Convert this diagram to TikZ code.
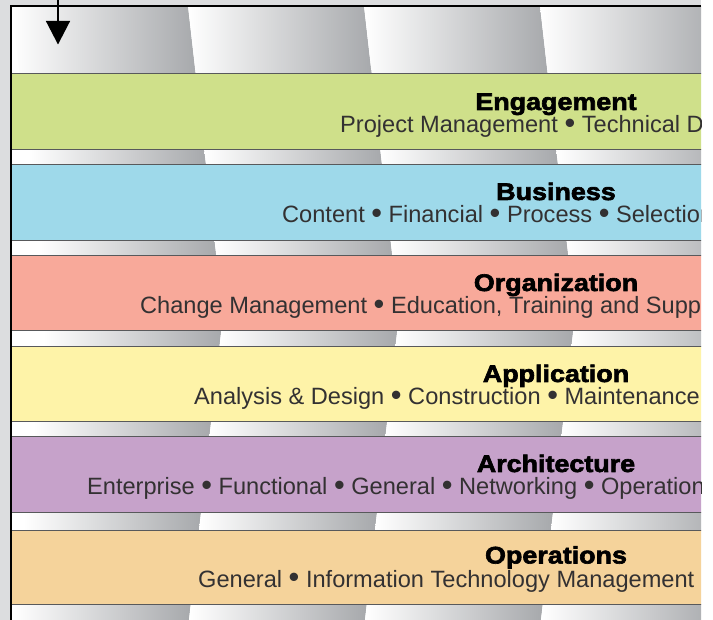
\documentclass[tikz,border=0pt]{standalone}
\usepackage{fontspec}
\setmainfont{Liberation Sans}
\newfontfamily\titlefont[FakeStretch=1.12,FakeBold=2.6]{Liberation Sans Bold}
\usetikzlibrary{arrows.meta}
\definecolor{outergray}{HTML}{DCDDDF}
\definecolor{colgray}{HTML}{A7A9AC}
\definecolor{bandline}{HTML}{58595B}
\definecolor{cEng}{HTML}{CFE08A}
\definecolor{cBus}{HTML}{9ED9EA}
\definecolor{cOrg}{HTML}{F8A99A}
\definecolor{cApp}{HTML}{FEF3A8}
\definecolor{cArc}{HTML}{C6A2CA}
\definecolor{cOps}{HTML}{F5D39B}
\definecolor{txt}{HTML}{231F20}
\definecolor{subtxt}{HTML}{333132}
\newcommand{\bulsep}{\space\raisebox{-0.6pt}{\scalebox{1.3}{•}}\space}
\begin{document}
\begin{tikzpicture}[x=1pt,y=-1pt,
  bandbox/.style={draw=bandline, line width=1pt, minimum width=720pt, inner sep=0pt, outer sep=0pt},
  titletext/.style={font=\titlefont\fontsize{24}{24}\selectfont, text=black, anchor=base, inner sep=0pt},
  subtext/.style={font=\fontsize{23.6}{26}\selectfont, text=subtxt, anchor=base west, inner sep=0pt},
  frameline/.style={draw=black, line width=1.3pt},
  colshade/.style={left color=white, right color=colgray}]
\useasboundingbox (0,0) rectangle (713,620);
\fill[white] (0,0) rectangle (713,620);
\fill[outergray] (0,0) rectangle (701,620);
\begin{scope}
  \clip (11,6) rectangle (701,620);
  \fill[white] (11,6) rectangle (701,620);
  \foreach \ya/\yb in {6/74,150/165,241/256,331/347,422/437,513/530,604/620}{
    \pgfmathsetmacro{\ea}{\ya<315 ? 188+0.1133*(\ya-6) : 223-0.1115*(\ya-315)}
    \pgfmathsetmacro{\eb}{\yb<315 ? 188+0.1133*(\yb-6) : 223-0.1115*(\yb-315)}
    \foreach \k in {-1,0,1,2}{
      \shade[colshade] ({\ea+176*\k},\ya) -- ({\ea+176*(\k+1)},\ya) -- ({\eb+176*(\k+1)},\yb) -- ({\eb+176*\k},\yb) -- cycle;
    }
  }
  % bands
  \node[bandbox, fill=cEng, minimum height=76pt] (engband) at (371,112) {};
  \node[bandbox, fill=cBus, minimum height=76pt] (busband) at (371,203) {};
  \node[bandbox, fill=cOrg, minimum height=75pt] (orgband) at (371,293.5) {};
  \node[bandbox, fill=cApp, minimum height=75pt] (appband) at (371,384.5) {};
  \node[bandbox, fill=cArc, minimum height=76pt] (arcband) at (371,475) {};
  \node[bandbox, fill=cOps, minimum height=74pt] (opsband) at (371,567) {};
  % titles
  \node[titletext] (engtitle) at (556,110) {Engagement};
  \node[titletext] (bustitle) at (556,200) {Business};
  \node[titletext] (orgtitle) at (556,291) {Organization};
  \node[titletext] (apptitle) at (556,382) {Application};
  \node[titletext] (arctitle) at (556,472) {Architecture};
  \node[titletext] (opstitle) at (556,563.5) {Operations};
  % subtitles
  \node[subtext] (engsub) at (340,133) {Project Management\bulsep Technical D};
  \node[subtext] (bussub) at (282,223) {Content\bulsep Financial\bulsep Process\bulsep Selection};
  \node[subtext] (orgsub) at (140,314) {Change Management\bulsep Education, Training and Supp};
  \node[subtext] (appsub) at (194,405) {Analysis \& Design\bulsep Construction\bulsep Maintenance};
  \node[subtext] (arcsub) at (87,495) {Enterprise\bulsep Functional\bulsep General\bulsep Networking\bulsep Operation};
  \node[subtext] (opssub) at (198,587) {General\bulsep Information Technology Management};
\end{scope}
\draw[frameline] (11,620) -- (11,6) -- (701,6);
\coordinate (arrowtop) at (58,0);
\coordinate (arrowtip) at (58,44.5);
\draw[line width=1.3pt, -{Triangle[width=24pt,length=23.5pt]}] (arrowtop) -- (arrowtip);
\end{tikzpicture}
\end{document}
